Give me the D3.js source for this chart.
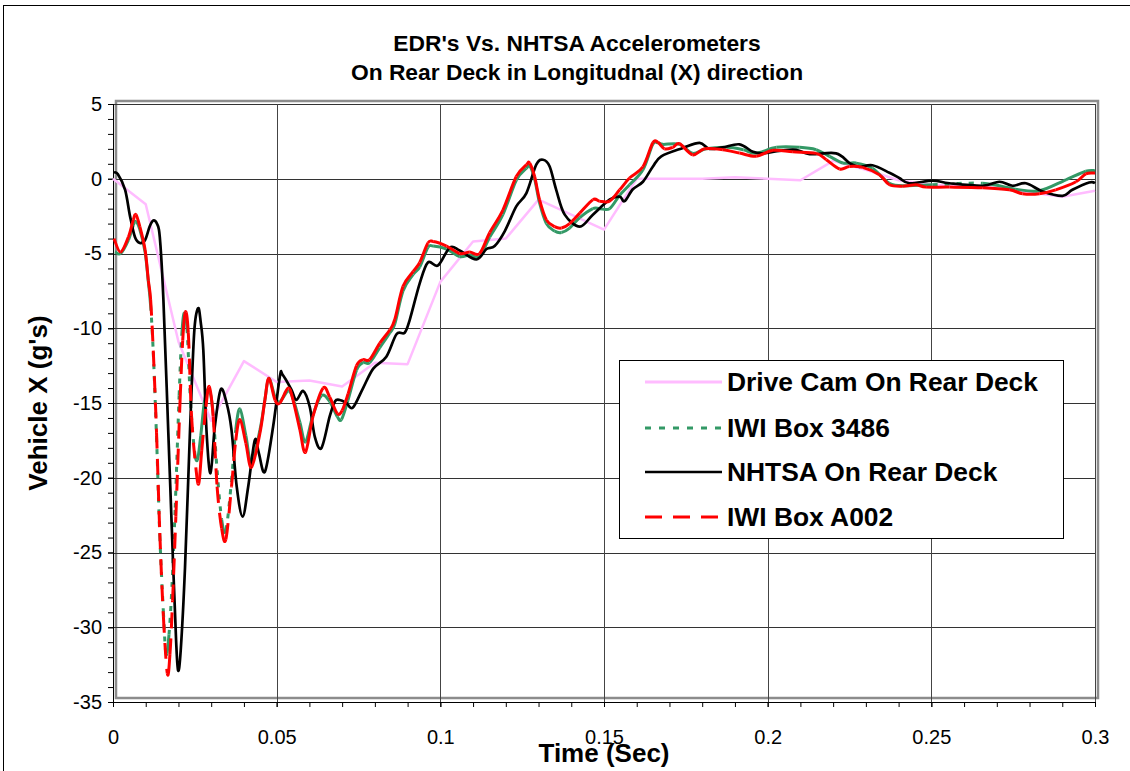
<!DOCTYPE html>
<html>
<head>
<meta charset="utf-8">
<script src="https://cdn.jsdelivr.net/npm/d3@7"></script>
<style>
  body { margin: 0; background: #fff; }
  svg { display: block; font-family: "Liberation Sans", Arial, sans-serif; }
</style>
</head>
<body>
<div id="chart-area"></div>
<script>
// ---- data: [time (s), accel (g)] ----
var driveCam = [[0,0],[0.01,-1.7],[0.02,-10.9],[0.03,-16.2],[0.04,-12.2],[0.05,-13.6],[0.06,-13.5],[0.07,-13.9],[0.08,-12.3],[0.09,-12.4],[0.1,-6.9],[0.11,-4.2],[0.12,-4.0],[0.13,-1.4],[0.14,-2.4],[0.15,-3.4],[0.16,0],[0.17,0],[0.18,0],[0.19,0.1],[0.2,0],[0.21,-0.1],[0.22,1.2],[0.23,0.6],[0.24,-0.1],[0.25,-0.4],[0.26,-0.5],[0.27,-0.6],[0.28,-0.9],[0.29,-1.2],[0.3,-0.8]];

var iwi3486 = [[0.0006,-4.9],[0.0023,-5.0],[0.0047,-4.1],[0.0062,-3.1],[0.007,-2.86],[0.0082,-3.4],[0.0098,-4.9],[0.0108,-6.9],[0.0115,-8.5],[0.0123,-11.6],[0.0133,-17.3],[0.0143,-23.9],[0.0154,-29.0],[0.0162,-31.8],[0.0171,-30.5],[0.018,-27.3],[0.019,-22.0],[0.0202,-14.5],[0.021,-10.5],[0.0217,-9.0],[0.0226,-10.0],[0.0237,-15.0],[0.0249,-18.2],[0.0258,-18.8],[0.0268,-17.2],[0.028,-14.8],[0.0293,-14.1],[0.0305,-15.5],[0.0318,-19.5],[0.0332,-22.8],[0.0345,-23.5],[0.0362,-20.2],[0.0375,-16.8],[0.0388,-15.4],[0.0406,-17.2],[0.0423,-19.0],[0.0449,-16.8],[0.0464,-14.8],[0.0476,-13.35],[0.0495,-14.6],[0.051,-14.9],[0.0535,-14.2],[0.055,-14.7],[0.0571,-16.3],[0.0588,-17.6],[0.0611,-15.8],[0.0637,-14.5],[0.0662,-14.9],[0.0685,-15.9],[0.0698,-16.1],[0.0718,-14.8],[0.0744,-12.8],[0.0764,-12.3],[0.0784,-12.3],[0.0815,-11.3],[0.0846,-10.3],[0.0861,-9.7],[0.0886,-7.5],[0.0917,-6.4],[0.0937,-5.9],[0.0962,-4.6],[0.0978,-4.5],[0.1019,-4.7],[0.1059,-5.2],[0.109,-5.1],[0.112,-5.2],[0.1151,-3.9],[0.1191,-2.4],[0.1232,-0.1],[0.1263,0.7],[0.1273,0.87],[0.1288,0.0],[0.1303,-1.6],[0.1324,-3.0],[0.1349,-3.5],[0.137,-3.6],[0.1395,-3.3],[0.1426,-2.6],[0.1466,-2.0],[0.1487,-2.0],[0.1517,-2.0],[0.1548,-1.1],[0.1578,-0.4],[0.1619,0.6],[0.1649,2.3],[0.1665,2.4],[0.168,2.3],[0.1731,2.3],[0.1771,1.7],[0.1812,2.0],[0.1875,2.1],[0.1926,1.94],[0.1965,1.7],[0.2027,2.1],[0.2098,2.1],[0.2148,1.94],[0.2189,1.5],[0.223,1.05],[0.227,1.05],[0.232,0.7],[0.2372,-0.3],[0.2423,-0.47],[0.2504,-0.4],[0.2657,-0.3],[0.2758,-0.7],[0.283,-0.8],[0.2911,-0.07],[0.2972,0.5],[0.3,0.54]];

var nhtsa = [[0.0003,0.4],[0.0015,0.3],[0.0037,-0.74],[0.0052,-2.5],[0.0067,-3.9],[0.0082,-4.3],[0.0098,-4.1],[0.0112,-3.2],[0.0123,-2.8],[0.0134,-3.0],[0.0143,-3.9],[0.0154,-8.1],[0.0169,-17],[0.0184,-26],[0.0193,-31],[0.0199,-32.9],[0.0207,-31.5],[0.022,-26],[0.0235,-17],[0.0248,-10.3],[0.026,-8.66],[0.0268,-9.6],[0.0276,-11.5],[0.0286,-17],[0.0298,-19.7],[0.0311,-16.6],[0.0329,-14.1],[0.0347,-15.0],[0.0362,-16.8],[0.0378,-20.6],[0.0396,-22.6],[0.0413,-20.6],[0.0433,-17.5],[0.0445,-18.3],[0.0464,-19.6],[0.0489,-16.6],[0.051,-13.2],[0.0518,-13.1],[0.0545,-14.1],[0.056,-14.8],[0.0581,-14.2],[0.0601,-15.25],[0.0617,-17.3],[0.0637,-18.0],[0.0662,-15.9],[0.0678,-14.9],[0.0693,-14.8],[0.0713,-15.0],[0.0733,-15.3],[0.0764,-14.0],[0.0795,-12.7],[0.0835,-11.9],[0.0866,-10.4],[0.0891,-10.3],[0.0907,-9.4],[0.0937,-7.0],[0.0962,-5.6],[0.0993,-5.8],[0.1029,-4.6],[0.1059,-4.8],[0.111,-5.4],[0.1141,-4.7],[0.1166,-4.5],[0.1197,-3.5],[0.1232,-1.85],[0.1263,-0.96],[0.1293,0.94],[0.1314,1.27],[0.1334,0.82],[0.1354,-0.74],[0.138,-2.4],[0.1426,-3.2],[0.1466,-2.4],[0.1517,-1.4],[0.1548,-1.2],[0.1563,-1.5],[0.1588,-0.7],[0.1619,-0.2],[0.1649,0.8],[0.1675,1.5],[0.1741,2.06],[0.1792,2.4],[0.1822,2.0],[0.1863,2.1],[0.1914,2.3],[0.1955,1.8],[0.1985,1.7],[0.2046,1.9],[0.2087,1.94],[0.2128,1.65],[0.2209,1.7],[0.225,1.05],[0.228,0.8],[0.232,0.9],[0.2372,0.4],[0.2402,0.05],[0.2433,-0.3],[0.2504,-0.13],[0.2555,-0.3],[0.2657,-0.47],[0.2708,-0.2],[0.2748,-0.47],[0.2789,-0.3],[0.284,-0.85],[0.2901,-1.14],[0.2931,-0.74],[0.2982,-0.25],[0.3,-0.3]];

var iwiA002 = [[0.0003,-4.0],[0.0023,-4.9],[0.0047,-3.9],[0.0062,-2.75],[0.007,-2.4],[0.0082,-3.2],[0.0098,-4.75],[0.0108,-6.8],[0.0115,-8.1],[0.0123,-11.5],[0.0133,-17.0],[0.0143,-23.7],[0.0154,-29.3],[0.0166,-33.1],[0.0174,-31.8],[0.0182,-28.2],[0.0192,-22.6],[0.0205,-14.8],[0.0213,-10.8],[0.0221,-8.9],[0.023,-10.3],[0.024,-15.9],[0.0253,-19.3],[0.0262,-20.4],[0.0271,-18.2],[0.0284,-15.25],[0.0294,-13.9],[0.0306,-15.9],[0.0318,-20.6],[0.0332,-23.4],[0.0345,-24.1],[0.0362,-20.6],[0.0375,-17.5],[0.0388,-16.1],[0.0406,-17.7],[0.0423,-19.3],[0.0449,-17.0],[0.0464,-14.8],[0.0476,-13.35],[0.0495,-14.8],[0.051,-15.0],[0.0535,-14.0],[0.055,-14.8],[0.0571,-16.8],[0.0588,-18.3],[0.0611,-15.9],[0.0642,-14.0],[0.0662,-14.6],[0.0685,-15.7],[0.07,-15.5],[0.0718,-14.4],[0.0744,-12.5],[0.0764,-12.1],[0.0784,-12.1],[0.0815,-11.0],[0.0846,-10.1],[0.0861,-9.4],[0.0886,-7.2],[0.0917,-6.2],[0.0937,-5.6],[0.0962,-4.3],[0.0978,-4.2],[0.1019,-4.5],[0.1059,-5.0],[0.109,-4.9],[0.112,-5.0],[0.1151,-3.6],[0.1191,-2.1],[0.1232,0.15],[0.1263,0.94],[0.1273,1.05],[0.1288,0.15],[0.1303,-1.4],[0.1324,-2.75],[0.1349,-3.2],[0.137,-3.3],[0.1395,-3.0],[0.1426,-2.3],[0.1466,-1.4],[0.1487,-1.5],[0.1517,-1.5],[0.1548,-0.74],[0.1578,0.05],[0.1619,0.8],[0.1649,2.4],[0.1665,2.43],[0.1685,2.0],[0.171,2.1],[0.1731,2.34],[0.1771,1.6],[0.1807,2.0],[0.1863,1.94],[0.1914,1.72],[0.1965,1.5],[0.2016,1.9],[0.2077,1.8],[0.2148,1.7],[0.2179,1.27],[0.222,0.65],[0.225,0.82],[0.229,0.76],[0.2341,0.27],[0.2372,-0.4],[0.2412,-0.5],[0.2453,-0.4],[0.2484,-0.56],[0.2555,-0.56],[0.2657,-0.6],[0.2738,-0.74],[0.2779,-1.0],[0.283,-1.0],[0.288,-0.74],[0.2942,-0.2],[0.2972,0.33],[0.3,0.38]];

var xTicks = [0, 0.05, 0.1, 0.15, 0.2, 0.25, 0.3];
var yTicks = [5, 0, -5, -10, -15, -20, -25, -30, -35];
var xMinor = d3.range(0, 31).map(d => d / 100);
var yMinor = d3.range(-35, 6);

var titleLines = ["EDR's Vs. NHTSA Accelerometers", "On Rear Deck in Longitudnal (X) direction"];
var legendNames = ["Drive Cam On Rear Deck", "IWI Box 3486", "NHTSA On Rear Deck", "IWI Box A002"];

// ---- layout ----
var W = 1130, H = 771;
var svg = d3.select("#chart-area").append("svg").attr("width", W).attr("height", H);

var x = d3.scaleLinear().domain([0, 0.3]).range([113, 1095]);
var y = d3.scaleLinear().domain([-35, 5]).range([702, 104]);

svg.append("rect").attr("width", W).attr("height", H).attr("fill", "#fff");
// outer chart border
svg.append("rect")
	.attr("x", 3.5).attr("y", 5.5).attr("width", 1150).attr("height", 800)
	.attr("fill", "none").attr("stroke", "#000").attr("stroke-width", 1);

// grey plot-area frame (offset like the original)
svg.append("rect")
	.attr("x", 116).attr("y", 101).attr("width", 982).attr("height", 597)
	.attr("fill", "#fff").attr("stroke", "#8c8c8c").attr("stroke-width", 2.5);

// gridlines
var grid = svg.append("g").attr("shape-rendering", "crispEdges");
grid.selectAll(".hg").data(yTicks).join("line")
	.attr("x1", x(0)).attr("x2", x(0.3))
	.attr("y1", d => Math.round(y(d)) + 0.5).attr("y2", d => Math.round(y(d)) + 0.5)
	.attr("stroke", "#333").attr("stroke-width", 1);
grid.selectAll(".vg").data(xTicks).join("line")
	.attr("x1", d => Math.round(x(d)) + 0.5).attr("x2", d => Math.round(x(d)) + 0.5)
	.attr("y1", y(5)).attr("y2", y(-35))
	.attr("stroke", "#444").attr("stroke-width", 1);

// axes
var leftMinor = svg.append("g").attr("transform", "translate(" + x(0) + ",0)")
	.call(d3.axisLeft(y).tickValues(yMinor).tickSize(5).tickFormat(""));
var leftAxis = svg.append("g").attr("transform", "translate(" + x(0) + ",0)")
	.call(d3.axisLeft(y).tickValues(yTicks).tickSize(5).tickPadding(6).tickFormat(d => String(d)));
var bottomMinor = svg.append("g").attr("transform", "translate(0," + y(-35) + ")")
	.call(d3.axisBottom(x).tickValues(xMinor).tickSize(5).tickFormat(""));
var bottomAxis = svg.append("g").attr("transform", "translate(0," + y(-35) + ")")
	.call(d3.axisBottom(x).tickValues(xTicks).tickSize(5).tickFormat(d => String(+d.toFixed(2))));

svg.selectAll(".domain").attr("stroke", "#000");
svg.selectAll(".tick line").attr("stroke", "#000");
leftAxis.selectAll("text").attr("font-size", "20px").attr("fill", "#000")
	.attr("font-family", "Liberation Sans, Arial, sans-serif");
bottomAxis.selectAll("text").attr("font-size", "20px").attr("fill", "#000")
	.attr("font-family", "Liberation Sans, Arial, sans-serif")
	.attr("y", 42).attr("dy", 0);

// ---- series ----
// Excel restarts the dash pattern at each data point, so short segments look solid
function segments(data) {
	var pts = data.map(d => [x(d[0]), y(d[1])]);
	return pts.slice(0, -1).map((p1, i) => {
		var p0 = pts[i - 1] || p1, p2 = pts[i + 1], p3 = pts[i + 2] || p2;
		var p = d3.path();
		p.moveTo(p1[0], p1[1]);
		p.bezierCurveTo(p1[0] + (p2[0] - p0[0]) / 6, p1[1] + (p2[1] - p0[1]) / 6,
			p2[0] - (p3[0] - p1[0]) / 6, p2[1] - (p3[1] - p1[1]) / 6, p2[0], p2[1]);
		return { d: p.toString(), len: Math.hypot(p2[0] - p1[0], p2[1] - p1[1]) };
	});
}

var lineLinear = d3.line().x(d => x(d[0])).y(d => y(d[1]));
var lineSmooth = d3.line().x(d => x(d[0])).y(d => y(d[1])).curve(d3.curveCardinal.tension(0));

var plot = svg.append("g").attr("fill", "none");

plot.append("path").datum(driveCam)
	.attr("d", lineLinear).attr("stroke", "#ffbcff").attr("stroke-width", 2.5)
	.attr("stroke-linejoin", "round");

plot.append("g").selectAll("path").data(segments(iwi3486)).join("path")
	.attr("d", d => d.d).attr("stroke", "#339966").attr("stroke-width", 3)
	.attr("stroke-dasharray", d => d.len > 40 ? "5,7" : null);

plot.append("path").datum(nhtsa)
	.attr("d", lineSmooth).attr("stroke", "#000").attr("stroke-width", 2.7)
	.attr("stroke-linejoin", "round");

plot.append("g").selectAll("path").data(segments(iwiA002)).join("path")
	.attr("d", d => d.d).attr("stroke", "#ff0000").attr("stroke-width", 3)
	.attr("stroke-linecap", "butt")
	.attr("stroke-dasharray", d => d.len > 40 ? "16,10" : null);

// ---- titles ----
svg.selectAll(".title").data(titleLines).join("text")
	.attr("x", 577).attr("y", (d, i) => 51 + i * 29)
	.attr("text-anchor", "middle").attr("font-weight", "bold").attr("font-size", "22.8px")
	.text(d => d);

svg.append("text")
	.attr("x", (x(0) + x(0.3)) / 2).attr("y", 762)
	.attr("text-anchor", "middle").attr("font-weight", "bold").attr("font-size", "26px")
	.text("Time (Sec)");

svg.append("text")
	.attr("transform", "translate(47," + (y(5) + y(-35)) / 2 + ") rotate(-90)")
	.attr("text-anchor", "middle").attr("font-weight", "bold").attr("font-size", "26px")
	.text("Vehicle X (g's)");

// ---- legend ----
var legendStyles = [
	{ color: "#ffbcff", dash: null },
	{ color: "#339966", dash: "6,8" },
	{ color: "#000", dash: null },
	{ color: "#ff0000", dash: "17,11" }
];
var legendRowY = [382, 428, 472, 517];

var legend = svg.append("g");
legend.append("rect")
	.attr("x", 619.5).attr("y", 360.5).attr("width", 444).attr("height", 178)
	.attr("fill", "#fff").attr("stroke", "#000").attr("stroke-width", 1);

var items = legend.selectAll(".item").data(legendNames).join("g")
	.attr("transform", (d, i) => "translate(0," + legendRowY[i] + ")");
items.append("line")
	.attr("x1", 645).attr("x2", 722).attr("y1", 0).attr("y2", 0)
	.attr("stroke", (d, i) => legendStyles[i].color)
	.attr("stroke-width", (d, i) => i == 2 ? 2.5 : 3)
	.attr("stroke-dasharray", (d, i) => legendStyles[i].dash);
items.append("text")
	.attr("x", 727).attr("y", 9)
	.attr("font-weight", "bold").attr("font-size", "26.4px")
	.text(d => d);
</script>
</body>
</html>
